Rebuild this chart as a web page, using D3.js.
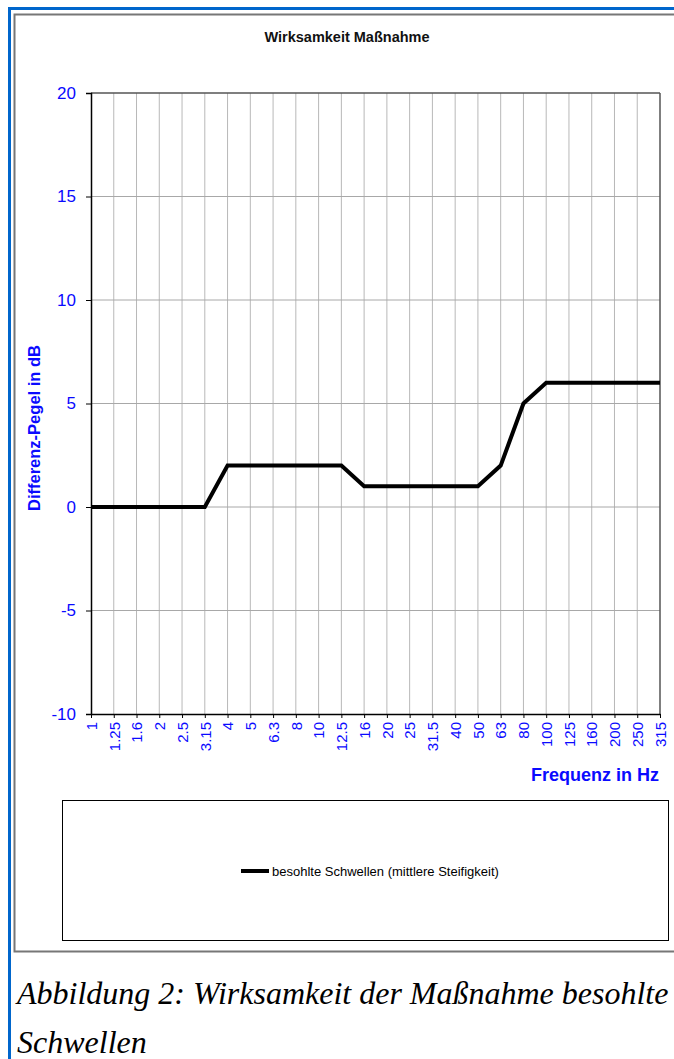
<!DOCTYPE html>
<html>
<head>
<meta charset="utf-8">
<script src="https://cdn.jsdelivr.net/npm/d3@7"></script>
<style>
  html, body { margin: 0; padding: 0; background: #fff; overflow: hidden; }
  svg { display: block; }
</style>
</head>
<body>
<svg id="chart" width="674" height="1059"></svg>
<script>
const categories = ["1","1.25","1.6","2","2.5","3.15","4","5","6.3","8","10","12.5","16","20","25","31.5","40","50","63","80","100","125","160","200","250","315"];
const seriesValues = [0,0,0,0,0,0,2,2,2,2,2,2,1,1,1,1,1,1,2,5,6,6,6,6,6,6];
const yTicks = [-10,-5,0,5,10,15,20];
const seriesName = "besohlte Schwellen (mittlere Steifigkeit)";
const chartTitle = "Wirksamkeit Maßnahme";
const yTitle = "Differenz-Pegel in dB";
const xTitle = "Frequenz in Hz";
const captionLines = ["Abbildung 2: Wirksamkeit der Maßnahme besohlte", "Schwellen"];

const svg = d3.select("#chart");
const blue = "#0a0aff";
const sans = "'Liberation Sans', Arial, sans-serif";

// outer blue frame
svg.append("rect").attr("x", 8).attr("y", 7).attr("width", 3).attr("height", 1052).attr("fill", "#0066cc");
svg.append("rect").attr("x", 8).attr("y", 7).attr("width", 666).attr("height", 3).attr("fill", "#0066cc");
// gray chart frame (extends past the right edge)
svg.append("path").attr("d", "M680,14.5 H14.5 V951.5 H680")
  .attr("fill", "none").attr("stroke", "#777").attr("stroke-width", 2);

const m = {left: 91, top: 93, right: 660, bottom: 714};
const x = d3.scalePoint().domain(categories).range([m.left, m.right]);
const y = d3.scaleLinear().domain([-10, 20]).range([m.bottom, m.top]);

// title
svg.append("text").attr("x", 347).attr("y", 42).attr("text-anchor", "middle")
  .attr("font-family", sans).attr("font-weight", "bold")
  .attr("font-size", 14.5).attr("fill", "#111").text(chartTitle);

// vertical grid
svg.append("g").selectAll("line").data(categories.slice(1, -1)).join("line")
  .attr("x1", d => x(d)).attr("x2", d => x(d)).attr("y1", m.top).attr("y2", m.bottom)
  .attr("stroke", "#b8b8b8").attr("stroke-width", 1);
// horizontal grid
svg.append("g").selectAll("line").data(yTicks.slice(1, -1)).join("line")
  .attr("x1", m.left).attr("x2", m.right).attr("y1", d => y(d)).attr("y2", d => y(d))
  .attr("stroke", "#a8a8a8").attr("stroke-width", 1);
// top and right border
svg.append("line").attr("x1", m.left).attr("x2", m.right).attr("y1", m.top).attr("y2", m.top)
  .attr("stroke", "#555").attr("stroke-width", 1.5);
svg.append("line").attr("x1", m.right).attr("x2", m.right).attr("y1", m.top).attr("y2", m.bottom)
  .attr("stroke", "#555").attr("stroke-width", 1.5);

// y axis
const yAxis = svg.append("g").attr("transform", `translate(${m.left},0)`)
  .call(d3.axisLeft(y).tickValues(yTicks).tickSize(5).tickPadding(10).tickFormat(d => String(d)));
yAxis.select(".domain").attr("stroke", "#000").attr("stroke-width", 1.5);
yAxis.selectAll(".tick line").attr("stroke", "#000");
yAxis.selectAll("text").attr("font-family", sans)
  .attr("font-size", 17).attr("fill", blue);

// x axis
const xAxis = svg.append("g").attr("transform", `translate(0,${m.bottom})`)
  .call(d3.axisBottom(x).tickSize(4).tickSizeOuter(0));
xAxis.select(".domain").attr("stroke", "#000").attr("stroke-width", 1.5);
xAxis.selectAll(".tick line").attr("stroke", "#000");
xAxis.selectAll("text")
  .attr("font-family", sans).attr("font-size", 15).attr("fill", blue)
  .attr("text-anchor", "end").attr("dy", "0.35em").attr("y", 0)
  .attr("transform", "translate(0,8) rotate(-90)");

// line
const line = d3.line().x((d, i) => x(categories[i])).y(d => y(d));
svg.append("path").datum(seriesValues).attr("d", line)
  .attr("fill", "none").attr("stroke", "#000").attr("stroke-width", 4).attr("stroke-linejoin", "miter");

// axis titles
svg.append("text").attr("transform", `translate(40,428) rotate(-90)`).attr("text-anchor", "middle")
  .attr("font-family", sans).attr("font-weight", "bold")
  .attr("font-size", 16.5).attr("fill", blue).text(yTitle);
svg.append("text").attr("x", 659).attr("y", 781).attr("text-anchor", "end")
  .attr("font-family", sans).attr("font-weight", "bold")
  .attr("font-size", 18).attr("fill", blue).text(xTitle);

// legend
svg.append("rect").attr("x", 62.5).attr("y", 800.5).attr("width", 606).attr("height", 140)
  .attr("fill", "#fff").attr("stroke", "#000").attr("stroke-width", 1);
svg.append("line").attr("x1", 241).attr("x2", 269).attr("y1", 871).attr("y2", 871)
  .attr("stroke", "#000").attr("stroke-width", 4);
svg.append("text").attr("x", 272).attr("y", 875.5)
  .attr("font-family", sans).attr("font-size", 13).attr("fill", "#000")
  .text(seriesName);

// caption
svg.append("g").selectAll("text").data(captionLines).join("text")
  .attr("x", 17).attr("y", (d, i) => 1004 + i * 49)
  .attr("font-family", "'Liberation Serif', 'Times New Roman', serif").attr("font-style", "italic")
  .attr("font-size", 32).attr("fill", "#000").text(d => d);
</script>
</body>
</html>
